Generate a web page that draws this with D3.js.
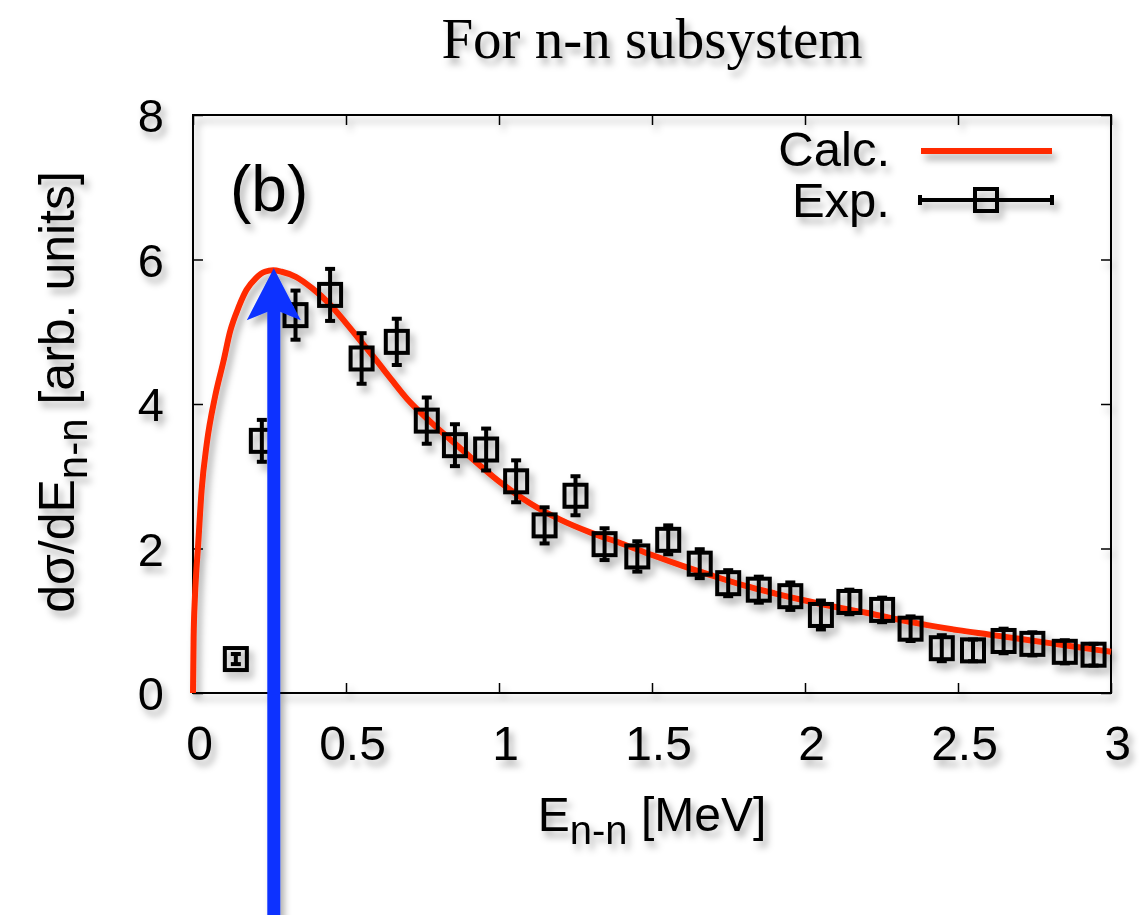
<!DOCTYPE html>
<html><head><meta charset="utf-8">
<script src="https://cdn.jsdelivr.net/npm/d3@7"></script>
<style>html,body{margin:0;padding:0;background:#fff}svg{display:block}</style>
</head><body>
<svg id="c" width="1148" height="915"></svg>
<script>
// ---- data ----
const expE   = [0.14,0.225,0.335,0.448,0.551,0.666,0.764,0.856,0.958,1.056,1.149,1.25,1.345,1.452,1.553,1.656,1.749,1.849,1.952,2.052,2.145,2.252,2.345,2.447,2.549,2.649,2.743,2.849,2.943];
const expY   = [0.47,3.49,5.23,5.51,4.63,4.86,3.77,3.43,3.37,2.93,2.32,2.73,2.06,1.89,2.12,1.79,1.52,1.43,1.34,1.08,1.26,1.15,0.89,0.62,0.59,0.72,0.68,0.57,0.53];
const expErr = [0.07,0.29,0.34,0.36,0.35,0.32,0.32,0.29,0.29,0.29,0.25,0.27,0.22,0.21,0.20,0.20,0.18,0.18,0.19,0.20,0.17,0.17,0.17,0.18,0.15,0.17,0.16,0.16,0.15];
const calcE  = [0,0.002,0.006,0.011,0.016,0.028,0.045,0.072,0.1,0.121,0.15,0.175,0.205,0.235,0.262,0.29,0.336,0.39,0.445,0.5,0.554,0.6,0.65,0.7,0.772,0.881,1.0,1.1,1.2,1.3,1.4,1.5,1.6,1.7,1.8,1.9,2.0,2.1,2.2,2.3,2.4,2.5,2.6,2.7,2.8,2.9,3.0];
const calcY  = [0,0.75,1.3,1.7,2.0,2.8,3.45,4.1,4.6,5.0,5.35,5.58,5.74,5.83,5.85,5.83,5.76,5.6,5.39,5.12,4.84,4.6,4.33,4.07,3.77,3.36,2.93,2.63,2.40,2.22,2.07,1.91,1.76,1.62,1.49,1.38,1.28,1.19,1.11,1.02,0.94,0.87,0.81,0.75,0.69,0.63,0.57];
const xTicks = [0,0.5,1,1.5,2,2.5,3];
const yTicks = [0,2,4,6,8];
const arrowE = 0.264, arrowTop = 5.85;
const title = "For n-n subsystem";
const legendLabels = ["Calc.","Exp."];

// ---- layout ----
const L=193, R=1111, T=115, B=693;
const svg = d3.select("#c");
const x = d3.scaleLinear().domain([0,3]).range([L,R]);
const y = d3.scaleLinear().domain([0,8]).range([B,T]);
const sans = "'Liberation Sans', Arial, Helvetica, sans-serif";

const defs = svg.append("defs");
const f = defs.append("filter").attr("id","sh").attr("x","-20%").attr("y","-20%").attr("width","150%").attr("height","150%");
f.append("feDropShadow").attr("dx",4).attr("dy",6).attr("stdDeviation",3.5).attr("flood-color","#000").attr("flood-opacity",0.32);

const g = svg.append("g").attr("filter","url(#sh)");

// title
g.append("text").attr("x",652).attr("y",58).attr("text-anchor","middle")
  .attr("font-family","'Liberation Serif','DejaVu Serif',serif").attr("font-size",57).text(title);

// frame
g.append("rect").attr("x",L).attr("y",T).attr("width",R-L).attr("height",B-T)
  .attr("fill","none").attr("stroke","#000").attr("stroke-width",2);

// axes with inner ticks (mirrored)
const ax = g.append("g").attr("font-family",sans);
const xb = ax.append("g").attr("transform",`translate(0,${B})`)
  .call(d3.axisBottom(x).tickValues(xTicks).tickSize(-10).tickPadding(0).tickFormat(d3.format("")));
xb.select(".domain").remove();
xb.selectAll(".tick line").attr("stroke","#000").attr("stroke-width",1.5);
xb.selectAll(".tick text").attr("font-size",48).attr("fill","#000").attr("dy",0).attr("y",67).attr("dx",6);
const xt = ax.append("g").attr("transform",`translate(0,${T})`)
  .call(d3.axisTop(x).tickValues(xTicks).tickSize(-10).tickFormat(""));
xt.select(".domain").remove();
xt.selectAll(".tick line").attr("stroke","#000").attr("stroke-width",1.5);
const yl = ax.append("g").attr("transform",`translate(${L},0)`)
  .call(d3.axisLeft(y).tickValues(yTicks).tickSize(-10).tickPadding(0).tickFormat(d3.format("")));
yl.select(".domain").remove();
yl.selectAll(".tick line").attr("stroke","#000").attr("stroke-width",1.5);
yl.selectAll(".tick text").attr("font-size",47).attr("fill","#000").attr("x",-29).attr("dy","0.36em");
const yr = ax.append("g").attr("transform",`translate(${R},0)`)
  .call(d3.axisRight(y).tickValues(yTicks).tickSize(-10).tickFormat(""));
yr.select(".domain").remove();
yr.selectAll(".tick line").attr("stroke","#000").attr("stroke-width",1.5);

// axis labels
const xlab = g.append("text").attr("x",652).attr("y",831).attr("text-anchor","middle")
  .attr("font-family",sans).attr("font-size",48);
xlab.append("tspan").text("E");
xlab.append("tspan").attr("font-size",40).attr("dy",13).text("n-n");
xlab.append("tspan").attr("dy",-13).text(" [MeV]");

const ylab = g.append("text").attr("transform","translate(74,392) rotate(-90)").attr("text-anchor","middle")
  .attr("font-family",sans).attr("font-size",50);
ylab.append("tspan").text("dσ/dE");
ylab.append("tspan").attr("font-size",42).attr("dy",13).text("n-n");
ylab.append("tspan").attr("dy",-13).text(" [arb. units]");

// panel label
g.append("text").attr("x",230).attr("y",211).attr("font-family",sans).attr("font-size",64).text("(b)");

// calc curve
const line = d3.line().x((d,i)=>x(calcE[i])).y((d,i)=>y(calcY[i])).curve(d3.curveMonotoneX);
g.append("path").datum(calcY).attr("d",line).attr("fill","none").attr("stroke","#ff2a00").attr("stroke-width",6).attr("stroke-linejoin","round");

// exp points
const pts = g.append("g").attr("stroke","#000").attr("stroke-width",4).attr("fill","none");
const cap = 5, sq = 11;
expE.forEach((e,i)=>{
  const cx=x(e), y1=y(expY[i]+expErr[i]), y0=y(expY[i]-expErr[i]), cy=y(expY[i]);
  pts.append("line").attr("x1",cx).attr("x2",cx).attr("y1",y0).attr("y2",y1);
  pts.append("line").attr("x1",cx-cap).attr("x2",cx+cap).attr("y1",y0).attr("y2",y0);
  pts.append("line").attr("x1",cx-cap).attr("x2",cx+cap).attr("y1",y1).attr("y2",y1);
  pts.append("rect").attr("x",cx-sq).attr("y",cy-sq).attr("width",2*sq).attr("height",2*sq);
});

// legend
const lg = g.append("g").attr("font-family",sans).attr("font-size",49);
lg.append("text").attr("x",890).attr("y",166).attr("text-anchor","end").text(legendLabels[0]);
lg.append("text").attr("x",890).attr("y",217).attr("text-anchor","end").text(legendLabels[1]);
lg.append("line").attr("x1",921).attr("x2",1052).attr("y1",151).attr("y2",151).attr("stroke","#ff2a00").attr("stroke-width",6);
const le = lg.append("g").attr("stroke","#000").attr("stroke-width",4).attr("fill","none");
le.append("line").attr("x1",920).attr("x2",1052).attr("y1",200).attr("y2",200);
le.append("line").attr("x1",920).attr("x2",920).attr("y1",195).attr("y2",205);
le.append("line").attr("x1",1052).attr("x2",1052).attr("y1",195).attr("y2",205);
le.append("rect").attr("x",986-sq).attr("y",200-sq).attr("width",2*sq).attr("height",2*sq);

// blue arrow
const axp = x(arrowE), tip = y(arrowTop)-2;
const ag = g.append("g").attr("fill","#0a33ff");
ag.append("rect").attr("x",axp-6.5).attr("y",tip+40).attr("width",13).attr("height",915-(tip+40)+5);
ag.append("path").attr("d",`M${axp},${tip} L${axp+27},${tip+52} L${axp},${tip+41} L${axp-27},${tip+52} Z`);
</script>
</body></html>
